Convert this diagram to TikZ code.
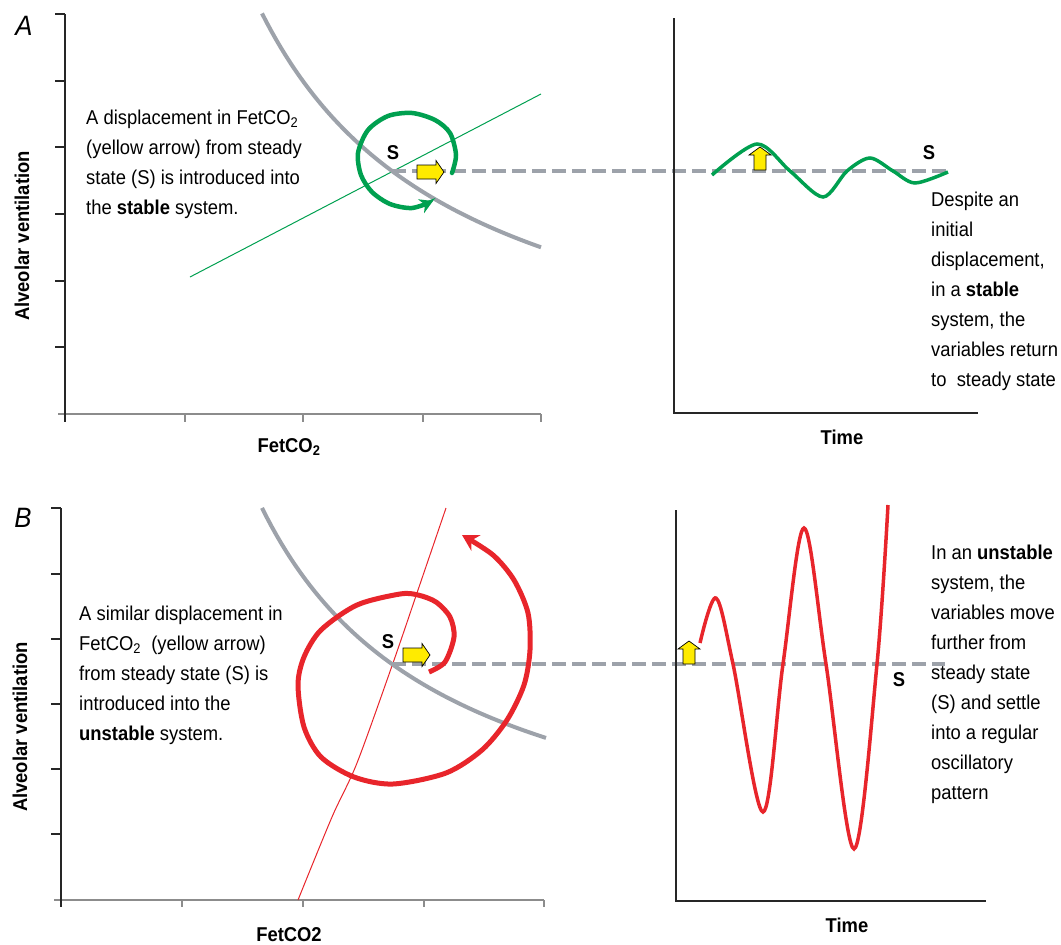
\documentclass[tikz,border=0pt]{standalone}
\usepackage{fontspec}
\setmainfont{Liberation Sans}[FakeStretch=0.92]
\usetikzlibrary{arrows.meta}

\definecolor{lggray}{RGB}{157,162,170}
\definecolor{lgreen}{RGB}{0,160,80}
\definecolor{lred}{RGB}{232,37,43}
\definecolor{lyellow}{RGB}{255,235,0}

\begin{document}
\begin{tikzpicture}[x=1pt,y=-1pt,
  every node/.style={inner sep=0pt,font=\fontsize{20}{30}\selectfont},
  axis/.style={draw=black!85,line width=1.3pt},
  gaxis/.style={draw=black!45,line width=2.4pt},
  loopcurve/.style={draw=lggray,line width=4pt,line join=round},
  dashline/.style={draw=lggray,line width=4pt,dash pattern=on 14pt off 6pt},
  rarrow/.pic={\path[fill=lyellow,draw=black,line width=0.7pt] (0,-7)--(19,-7)--(19,-11.5)--(27,0)--(19,11.5)--(19,7)--(0,7)--cycle;},
  uarrow/.pic={\path[fill=lyellow,draw=black,line width=0.7pt] (-6,0)--(-6,-15)--(-11,-15)--(0,-23)--(11,-15)--(6,-15)--(6,0)--cycle;}]
\useasboundingbox (0,0) rectangle (1061,945);

% panel A, left plot
\node[font=\fontsize{28}{30}\selectfont\itshape] (labA) at (24,26) {A};
\path[gaxis] (58,414) -- (541,414);
\foreach \x in {185,303,423,541} \path[gaxis,line width=2pt] (\x,414) -- (\x,422);
\path[axis] (65,14) -- (65,422);
\foreach \y in {14,81,147,214,281,347} \path[axis] (55,\y) -- (65,\y);
\node[rotate=90,font=\fontsize{20}{30}\selectfont\bfseries] (yA) at (22,236) {Alveolar ventilation};
\node[font=\fontsize{20}{30}\selectfont\bfseries] (xA) at (289,447) {FetCO\textsubscript{2}};
\node[anchor=north west,align=left] (txtA) at (86,110) {A displacement in FetCO\textsubscript{2}\\(yellow arrow) from steady\\state (S) is introduced into\\the \textbf{stable} system.};

\path[draw=lgreen,line width=1pt] (190,277) -- (541,94);
\path[loopcurve] plot[domain=262:541,samples=60] (\x,{418.3-826/((\x-58)/100)});
\coordinate (sA) at (392,171);
\coordinate (sAend) at (948,171);
\path[dashline] (sA) -- (sAend);
\node[font=\fontsize{20}{30}\selectfont\bfseries] (SA) at (393,153) {S};
\pic at (417,172) {rarrow};
\path[draw=lgreen,line width=4.5pt,line cap=round,-{Stealth[length=13pt,width=15pt]}] plot[smooth] coordinates {(452,173) (456,155) (450,133) (435,120) (412,113) (388,116) (368,130) (358,153) (361,175) (372,192) (390,204) (412,208) (433,201)};

% panel A, right plot
\path[axis] (674,18) -- (674,413) -- (978,413);
\node[font=\fontsize{20}{30}\selectfont\bfseries] (tA) at (842,437) {Time};
\path[draw=lgreen,line width=3.5pt] plot[smooth] coordinates {(712,175) (757,144) (790,171) (823,197) (847,171) (870,158) (893,171) (915,183) (948,172)};
\pic at (760,170) {uarrow};
\node[font=\fontsize{20}{30}\selectfont\bfseries] (SA2) at (929,153) {S};
\node[anchor=north west,align=left] (txtA2) at (931,192) {Despite an\\initial\\displacement,\\in a \textbf{stable}\\system, the\\variables return\\to~ steady state};

% panel B, left plot
\node[font=\fontsize{28}{30}\selectfont\itshape] (labB) at (23,518) {B};
\path[gaxis] (54,900) -- (544,900);
\foreach \x in {182,303,424,544} \path[gaxis,line width=2pt] (\x,900) -- (\x,907);
\path[axis] (61,508) -- (61,907);
\foreach \y in {508,574,639,704,769,834} \path[axis] (51,\y) -- (61,\y);
\node[rotate=90,font=\fontsize{20}{30}\selectfont\bfseries] (yB) at (20,727) {Alveolar ventilation};
\node[font=\fontsize{20}{30}\selectfont\bfseries] (xB) at (289,935) {FetCO2};
\node[anchor=north west,align=left] (txtB) at (79,606) {A similar displacement in\\FetCO\textsubscript{2}~ (yellow arrow)\\from steady state (S) is\\introduced into the\\\textbf{unstable} system.};

\path[draw=lred,line width=1pt] plot[smooth] coordinates {(298,900) (332,817) (357,763) (393,663) (418,590) (446,508)};
\path[loopcurve] plot[domain=262:546,samples=60] (\x,{891-724/((\x-73)/100)});
\coordinate (sB) at (392,664);
\coordinate (sBend) at (945,664);
\path[dashline] (sB) -- (sBend);
\node[font=\fontsize{20}{30}\selectfont\bfseries] (SB) at (388,642) {S};
\pic at (403,655) {rarrow};
\path[draw=lred,line width=5pt,-{Stealth[length=16pt,width=18pt]}] plot[smooth] coordinates {(429,672) (445,662) (454,637) (450,617) (436,602) (418,595) (400,594) (357,605) (321,630) (304,657) (298,685) (304,727) (321,757) (354,777) (393,784) (446,773) (482,750) (507,720) (524,685) (530,650) (528,613) (514,580) (493,555) (462,535)};

% panel B, right plot
\path[axis] (676,510) -- (676,901) -- (986,901);
\node[font=\fontsize{20}{30}\selectfont\bfseries] (tB) at (847,925) {Time};
\path[draw=lred,line width=3.5pt] plot[smooth,tension=0.55] coordinates {(700,643) (716,598) (733,664) (763,812) (783,664) (804,528) (826,664) (854,849) (877,664) (888,505)};
\pic at (689,664) {uarrow};
\node[font=\fontsize{20}{30}\selectfont\bfseries] (SB2) at (899,680) {S};
\node[anchor=north west,align=left] (txtB2) at (931,545) {In an \textbf{unstable}\\system, the\\variables move\\further from\\steady state\\(S) and settle\\into a regular\\oscillatory\\pattern};
\end{tikzpicture}
\end{document}
